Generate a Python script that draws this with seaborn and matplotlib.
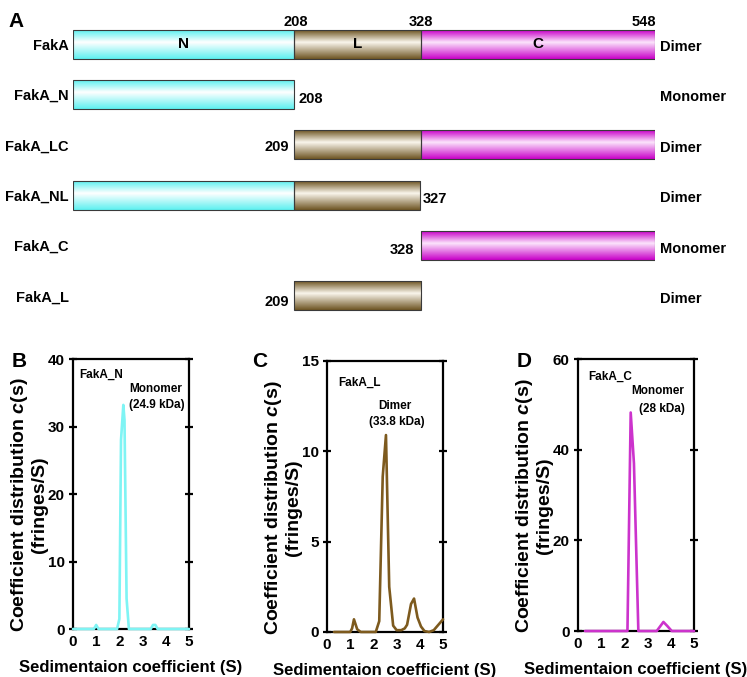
import numpy as np
import matplotlib
matplotlib.use("Agg")
import matplotlib.pyplot as plt
import seaborn as sns
from matplotlib.colors import LinearSegmentedColormap

sns.set_style("white")
plt.rcParams["font.family"] = ["Liberation Sans", "DejaVu Sans"]
plt.rcParams["font.weight"] = "bold"
plt.rcParams["mathtext.fontset"] = "custom"
plt.rcParams["mathtext.rm"] = "Liberation Sans:bold"
plt.rcParams["mathtext.it"] = "Liberation Sans:italic:bold"
for k in ["text.color", "axes.labelcolor", "xtick.color", "ytick.color"]:
    plt.rcParams[k] = "black"

# --- panel A : domain architecture ---
constructs = ["FakA", "FakA_N", "FakA_LC", "FakA_NL", "FakA_C", "FakA_L"]
states = ["Dimer", "Monomer", "Dimer", "Dimer", "Monomer", "Dimer"]
seg_row = [0, 0, 0, 1, 2, 2, 3, 3, 4, 5]
seg_domain = ["N", "L", "C", "N", "L", "C", "N", "L", "C", "L"]
seg_start = [0, 208, 328, 0, 208, 328, 0, 208, 328, 208]
seg_end = [208, 328, 548, 208, 328, 548, 208, 327, 548, 328]
full_length = 548

# --- panels B-D : c(s) distributions ---
s_N = [0, 0.9, 1.0, 1.1, 1.9, 2.0, 2.07, 2.17, 2.22, 2.31, 2.41, 3.35, 3.45, 3.55, 3.65, 5.0]
c_N = [0, 0, 0.6, 0, 0, 1.5, 28, 33.2, 31, 4.5, 0, 0, 0.6, 0.6, 0, 0]

s_L = [0.3, 1.0, 1.08, 1.16, 1.3, 1.45, 2.1, 2.25, 2.4, 2.54, 2.68, 2.85, 3.0, 3.2,
       3.35, 3.45, 3.62, 3.75, 3.9, 4.05, 4.2, 4.4, 4.6, 4.8, 5.0]
c_L = [0, 0, 0.2, 0.7, 0.15, 0, 0, 0.6, 8.6, 10.9, 2.5, 0.35, 0.1, 0.1,
       0.2, 0.4, 1.55, 1.85, 0.8, 0.3, 0.05, 0, 0.1, 0.4, 0.7]

s_C = [0.3, 2.13, 2.27, 2.41, 2.6, 3.39, 3.68, 3.85, 4.04, 5.0]
c_C = [0, 0, 48.2, 37, 0, 0, 2.0, 1.1, 0, 0]

grad_cols = {"N": ("#5CF0F0", "#FFFFFF"),
             "L": ("#6E5523", "#FAF6EC"),
             "C": ("#C800C8", "#FCE4FC")}

fig = plt.figure(figsize=(7.47, 6.77), dpi=100)

axA = fig.add_axes([0.0977, 0.5256, 0.779, 0.4466])
h = 0.575
grad = np.linspace(0, 1, 200).reshape(-1, 1)
for r, d, a, b in zip(seg_row, seg_domain, seg_start, seg_end):
    dark, light = grad_cols[d]
    cmap = LinearSegmentedColormap.from_list(d, [(0, dark), (0.42, light), (1, dark)])
    axA.imshow(grad, extent=[a, b, r + h / 2, r - h / 2], aspect="auto", cmap=cmap, zorder=2)
    axA.barh(r, b - a, left=a, height=h, color="none", edgecolor="#3a3a3a", lw=0.8, zorder=3)

for d, a, b in zip(seg_domain[:3], seg_start[:3], seg_end[:3]):
    axA.text((a + b) / 2, 0, d, ha="center", va="center", fontsize=11, zorder=4)

axA.set_xlim(0, full_length)
axA.set_ylim(5.5, -0.5)
axA.set_yticks(range(len(constructs)))
axA.set_yticklabels(constructs, fontsize=10.5)
axA.set_xticks([])
axA.tick_params(axis="y", length=0, pad=3)
for sp in axA.spines.values():
    sp.set_visible(False)
axA.patch.set_alpha(0)

for i, st in enumerate(states):
    axA.text(full_length + 5, i + 0.06, st, ha="left", va="center", fontsize=10.5)

# residue numbers
top = -h / 2 - 0.02
axA.text(210, top, "208", ha="center", va="bottom", fontsize=10.5)
axA.text(328, top, "328", ha="center", va="bottom", fontsize=10.5)
axA.text(549, top, "548", ha="right", va="bottom", fontsize=10.5)
axA.text(212, 1.1, "208", ha="left", va="center", fontsize=10.5)
axA.text(203, 2.05, "209", ha="right", va="center", fontsize=10.5)
axA.text(329, 3.08, "327", ha="left", va="center", fontsize=10.5)
axA.text(321, 4.08, "328", ha="right", va="center", fontsize=10.5)
axA.text(203, 5.12, "209", ha="right", va="center", fontsize=10.5)


def cs_panel(rect, s, c, color, ymax, ystep):
    ax = fig.add_axes(rect)
    sns.lineplot(x=s, y=c, ax=ax, color=color, lw=1.9, clip_on=False, zorder=5)
    ax.set_xlim(0, 5)
    ax.set_ylim(0, ymax)
    ax.set_xticks(range(6))
    ax.set_yticks(np.arange(0, ymax + 1, ystep))
    for sp in ax.spines.values():
        sp.set_linewidth(1.6)
        sp.set_color("black")
    ax.tick_params(axis="x", direction="in", length=4, width=1.6, labelsize=11, pad=4)
    ax.tick_params(axis="y", direction="inout", length=6, width=1.6, labelsize=11,
                   right=True, left=True, pad=3)
    ax.set_xlabel("Sedimentaion coefficient (S)", fontsize=12, fontweight="bold")
    ax.xaxis.set_label_coords(0.5, -0.115)
    ax.set_ylabel("Coefficient distribution $\\it{c}$(s)\n(fringes/S)", fontsize=14,
                  fontweight="bold", linespacing=1.08)
    ax.yaxis.set_label_coords(-0.215, 0.46)
    return ax


axB = cs_panel([0.0977, 0.0709, 0.1553, 0.3988], s_N, c_N, "#7FF4F4", 40, 10)
axB.text(0.26, 37.6, "FakA_N", ha="left", va="center", fontsize=8.5)
axB.text(3.55, 35.6, "Monomer", ha="center", va="center", fontsize=8.5)
axB.text(3.6, 33.2, "(24.9 kDa)", ha="center", va="center", fontsize=8.5)

axC = cs_panel([0.4378, 0.0665, 0.1553, 0.4003], s_L, c_L, "#7D5A1E", 15, 5)
axC.text(0.47, 13.8, "FakA_L", ha="left", va="center", fontsize=8.5)
axC.text(2.93, 12.5, "Dimer", ha="center", va="center", fontsize=8.5)
axC.text(3.02, 11.6, "(33.8 kDa)", ha="center", va="center", fontsize=8.5)

axD = cs_panel([0.7738, 0.0679, 0.1553, 0.4018], s_C, c_C, "#CC33CC", 60, 20)
axD.text(0.43, 56.1, "FakA_C", ha="left", va="center", fontsize=8.5)
axD.text(3.45, 53.0, "Monomer", ha="center", va="center", fontsize=8.5)
axD.text(3.62, 49.0, "(28 kDa)", ha="center", va="center", fontsize=8.5)

for lab, x, y in [("A", 8, 12), ("B", 12, 352), ("C", 252, 352), ("D", 517, 352)]:
    fig.text(x / 747, 1 - y / 677, lab, ha="left", va="top", fontsize=15, fontweight="bold")

fig.savefig("out.png", dpi=100)
